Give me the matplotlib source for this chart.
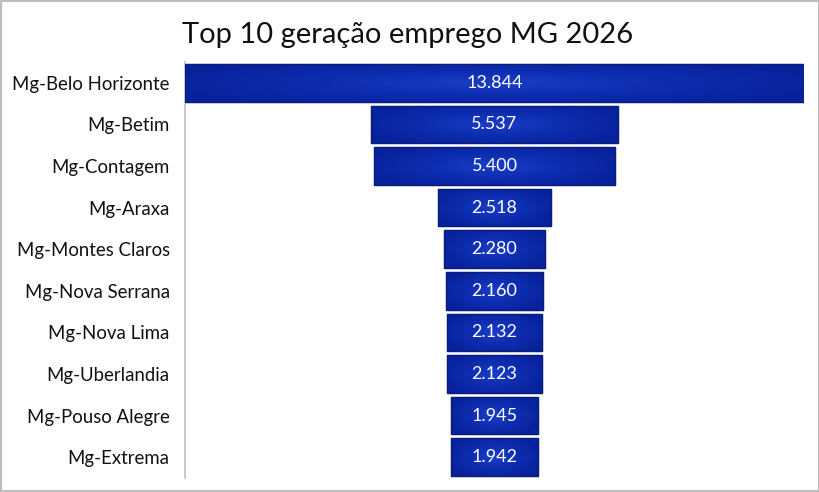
import matplotlib
matplotlib.use("Agg")
import matplotlib.pyplot as plt
from matplotlib.colors import LinearSegmentedColormap
import numpy as np

cities = ["Mg-Belo Horizonte", "Mg-Betim", "Mg-Contagem", "Mg-Araxa", "Mg-Montes Claros",
          "Mg-Nova Serrana", "Mg-Nova Lima", "Mg-Uberlandia", "Mg-Pouso Alegre", "Mg-Extrema"]
values = [13844, 5537, 5400, 2518, 2280, 2160, 2132, 2123, 1945, 1942]
labels = ["13.844", "5.537", "5.400", "2.518", "2.280", "2.160", "2.132", "2.123", "1.945", "1.942"]
title = "Top 10 geração emprego MG 2026"

plt.rcParams['font.family'] = ['Lato', 'DejaVu Sans']

fig = plt.figure(figsize=(8.2, 4.92), dpi=100)
fig.patch.set_facecolor("white")
ax = fig.add_axes([185/820, 1-478/492, (804-185)/820, (478-62)/492])

vals = np.array(values, dtype=float)
y = np.arange(len(cities))
bars = ax.barh(y, vals, left=-vals/2, height=0.9, color="#0b2aa8", edgecolor="#081c78",
               linewidth=0.9, zorder=2)

cmap = LinearSegmentedColormap.from_list("blu", ["#08229c", "#0d2db0", "#1a3dc6"])
gx = np.linspace(-1, 1, 120)
gy = np.linspace(-1, 1, 40)
GX, GY = np.meshgrid(gx, gy)
grad = 1 - np.clip(np.sqrt((GX * 0.9) ** 2 + (GY * 0.8) ** 2), 0, 1)
for b in bars:
    x0, y0 = b.get_x(), b.get_y()
    w, h = b.get_width(), b.get_height()
    im = ax.imshow(grad, cmap=cmap, extent=[x0, x0 + w, y0 + h, y0], aspect="auto",
                   zorder=2.5, interpolation="bilinear")
    im.set_clip_path(b)
for b in bars:
    r = plt.Rectangle((b.get_x(), b.get_y()), b.get_width(), b.get_height(), fill=False,
                      edgecolor="#081c78", linewidth=0.9, zorder=3)
    ax.add_patch(r)

for yi, lab in zip(y, labels):
    ax.text(0, yi, lab, color="white", ha="center", va="center", fontsize=13, zorder=4)

m = vals.max() / 2
ax.set_xlim(-m, m)
ax.set_ylim(len(cities) - 0.5, -0.5)
ax.set_yticks(y)
ax.set_yticklabels(cities, fontsize=13.4, color="#111111")
ax.tick_params(axis="y", length=0, pad=11)
ax.set_xticks([])
for s in ["top", "right", "bottom"]:
    ax.spines[s].set_visible(False)
ax.spines["left"].set_color("#c0c0c0")
ax.spines["left"].set_linewidth(1.2)

fig.text(0.4975, 1-35/492, title, ha="center", va="center", fontsize=21, color="#111111")

border = plt.Rectangle((0, 0), 1, 1, transform=fig.transFigure, fill=False,
                       edgecolor="#bdbdbd", linewidth=3)
fig.patches.append(border)

fig.savefig("out.png", dpi=100)
